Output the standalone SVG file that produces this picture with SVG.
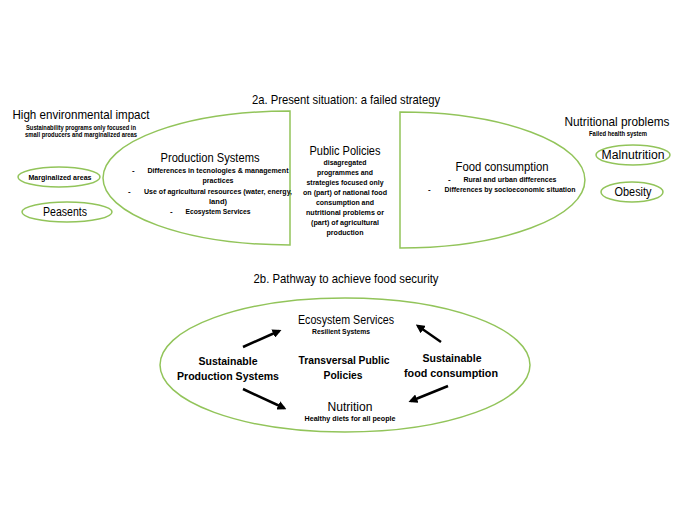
<svg xmlns="http://www.w3.org/2000/svg" width="680" height="526" viewBox="0 0 680 526">
<defs>
<style>
text{font-family:"Liberation Sans",Arial,sans-serif;fill:#000;text-anchor:middle}
.g{fill:none;stroke:#92c45a;stroke-width:1.5}
.t{font-size:13px}
.h{font-size:12px}
.hb{font-size:11.5px;font-weight:bold}
.s{font-size:8px;font-weight:bold}
.xs{font-size:6.5px;font-weight:bold}
.d{font-size:8px;font-weight:bold;text-anchor:start}
.arr{stroke:#000;stroke-width:2.5;fill:none;marker-end:url(#ah)}
</style>
<marker id="ah" viewBox="0 0 10 10" refX="7" refY="5" markerWidth="3.6" markerHeight="3.6" orient="auto">
<path d="M0,0 L10,5 L0,10 z" fill="#000"/>
</marker>
</defs>
<rect width="680" height="526" fill="#fff"/>

<text class="t" x="346" y="104" textLength="188" lengthAdjust="spacingAndGlyphs">2a. Present situation: a failed strategy</text>

<g id="high-impact">
<text class="t" x="81" y="119" textLength="137" lengthAdjust="spacingAndGlyphs">High environmental impact</text>
<text class="xs" x="81" y="129.5" textLength="110" lengthAdjust="spacingAndGlyphs">Sustainability programs only focused in</text>
<text class="xs" x="81" y="137" textLength="112" lengthAdjust="spacingAndGlyphs">small producers and marginalized areas</text>
</g>
<g id="marginalized">
<ellipse class="g" cx="59" cy="177" rx="41" ry="10"/>
<text class="s" x="60" y="180" textLength="63" lengthAdjust="spacingAndGlyphs">Marginalized areas</text>
</g>
<g id="peasents">
<ellipse class="g" cx="67" cy="212" rx="45" ry="10"/>
<text class="h" x="65" y="216" textLength="44" lengthAdjust="spacingAndGlyphs">Peasents</text>
</g>

<g id="production">
<path class="g" d="M290,111 A187,67 0 0 0 290,245 Z"/>
<text class="t" x="210" y="162" textLength="99" lengthAdjust="spacingAndGlyphs">Production Systems</text>
<text class="d" x="132" y="173">-</text>
<text class="s" x="218" y="173" textLength="141" lengthAdjust="spacingAndGlyphs">Differences in tecnologies &amp; management</text>
<text class="s" x="218" y="183" textLength="31" lengthAdjust="spacingAndGlyphs">practices</text>
<text class="d" x="128" y="194">-</text>
<text class="s" x="218" y="194" textLength="148" lengthAdjust="spacingAndGlyphs">Use of agricultural resources (water, energy,</text>
<text class="s" x="218" y="203.5" textLength="18" lengthAdjust="spacingAndGlyphs">land)</text>
<text class="d" x="170" y="213.5">-</text>
<text class="s" x="218" y="213.5" textLength="65" lengthAdjust="spacingAndGlyphs">Ecosystem Services</text>
</g>

<g id="public-policies">
<text class="t" x="345" y="155" textLength="71" lengthAdjust="spacingAndGlyphs">Public Policies</text>
<text class="s" x="345" y="165" textLength="43" lengthAdjust="spacingAndGlyphs">disagregated</text>
<text class="s" x="345" y="175" textLength="56" lengthAdjust="spacingAndGlyphs">programmes and</text>
<text class="s" x="345" y="185" textLength="77" lengthAdjust="spacingAndGlyphs">strategies focused only</text>
<text class="s" x="345" y="195" textLength="84" lengthAdjust="spacingAndGlyphs">on (part) of national food</text>
<text class="s" x="345" y="205" textLength="58" lengthAdjust="spacingAndGlyphs">consumption and</text>
<text class="s" x="345" y="215" textLength="78" lengthAdjust="spacingAndGlyphs">nutritional problems or</text>
<text class="s" x="345" y="225" textLength="68" lengthAdjust="spacingAndGlyphs">(part) of agricultural</text>
<text class="s" x="345" y="235" textLength="37" lengthAdjust="spacingAndGlyphs">production</text>
</g>

<g id="food-consumption">
<path class="g" d="M400,112 A185,68 0 0 1 400,248 Z"/>
<text class="t" x="502" y="171" textLength="93" lengthAdjust="spacingAndGlyphs">Food consumption</text>
<text class="d" x="448" y="182">-</text>
<text class="s" x="510" y="182" textLength="93" lengthAdjust="spacingAndGlyphs">Rural and urban differences</text>
<text class="d" x="428" y="192">-</text>
<text class="s" x="510" y="192" textLength="131" lengthAdjust="spacingAndGlyphs">Differences by socioeconomic situation</text>
</g>

<g id="nutritional-problems">
<text class="t" x="617" y="126" textLength="105" lengthAdjust="spacingAndGlyphs">Nutritional problems</text>
<text class="xs" x="618" y="136" textLength="58" lengthAdjust="spacingAndGlyphs">Failed health system</text>
</g>
<g id="malnutrition">
<ellipse class="g" cx="633" cy="155" rx="37" ry="10"/>
<text class="h" x="633" y="159" textLength="63" lengthAdjust="spacingAndGlyphs">Malnutrition</text>
</g>
<g id="obesity">
<ellipse class="g" cx="632" cy="192" rx="31" ry="10"/>
<text class="h" x="633" y="196" textLength="37" lengthAdjust="spacingAndGlyphs">Obesity</text>
</g>

<text class="t" x="346" y="283" textLength="185" lengthAdjust="spacingAndGlyphs">2b. Pathway to achieve food security</text>

<g id="pathway">
<ellipse class="g" cx="345" cy="365" rx="185" ry="67"/>
</g>
<g id="ecosystem-services">
<text class="h" x="346" y="324" textLength="96" lengthAdjust="spacingAndGlyphs">Ecosystem Services</text>
<text class="xs" x="341" y="333.5" textLength="58" lengthAdjust="spacingAndGlyphs">Resilient Systems</text>
</g>
<g id="sustainable-production">
<text class="hb" x="228" y="365" textLength="59" lengthAdjust="spacingAndGlyphs">Sustainable</text>
<text class="hb" x="228" y="380" textLength="102" lengthAdjust="spacingAndGlyphs">Production Systems</text>
</g>
<g id="transversal">
<text class="hb" x="344" y="364" textLength="91" lengthAdjust="spacingAndGlyphs">Transversal Public</text>
<text class="hb" x="343" y="379" textLength="39" lengthAdjust="spacingAndGlyphs">Policies</text>
</g>
<g id="sustainable-consumption">
<text class="hb" x="452" y="362" textLength="59" lengthAdjust="spacingAndGlyphs">Sustainable</text>
<text class="hb" x="451" y="377" textLength="94" lengthAdjust="spacingAndGlyphs">food consumption</text>
</g>
<g id="nutrition">
<text class="h" x="350" y="411" textLength="45" lengthAdjust="spacingAndGlyphs">Nutrition</text>
<text class="xs" x="350" y="421" textLength="91" lengthAdjust="spacingAndGlyphs">Healthy diets for all people</text>
</g>

<g id="connectors">
<line class="arr" x1="243" y1="347" x2="279" y2="331"/>
<line class="arr" x1="441" y1="342" x2="418" y2="326"/>
<line class="arr" x1="243" y1="389" x2="284" y2="408"/>
<line class="arr" x1="448" y1="386" x2="411" y2="401"/>
</g>
</svg>
